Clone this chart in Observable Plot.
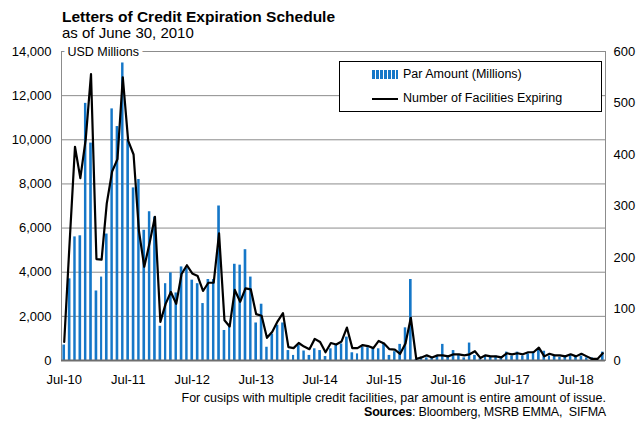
<!DOCTYPE html>
<html><head><meta charset="utf-8">
<script src="https://cdn.jsdelivr.net/npm/d3@7"></script>
<script src="https://cdn.jsdelivr.net/npm/@observablehq/plot@0.6"></script>
<style>
body{margin:0;background:#fff;font-family:"Liberation Sans",Arial,sans-serif;color:#000;}
#wrap{position:relative;width:638px;height:426px;overflow:hidden;}
#title{position:absolute;left:62px;top:8px;font-size:15.5px;font-weight:bold;line-height:18px;white-space:nowrap;}
#subtitle{position:absolute;left:62px;top:24px;font-size:15px;line-height:18px;white-space:nowrap;}
#chart{position:absolute;left:0;top:42px;}
#legend{position:absolute;left:339px;top:61px;width:261px;height:49px;border:1px solid #000;background:#fff;font-size:12.5px;}
.item{position:absolute;left:32px;height:14px;line-height:14px;white-space:nowrap;}
.sw{display:inline-block;width:26px;vertical-align:middle;margin-right:5px;}
#note{position:absolute;right:32px;top:391px;font-size:12.5px;line-height:15px;white-space:nowrap;}
#src{position:absolute;right:32px;top:405px;font-size:12.5px;line-height:15px;white-space:nowrap;letter-spacing:-0.2px;}
</style></head><body>
<div id="wrap">
<div id="title">Letters of Credit Expiration Schedule</div>
<div id="subtitle">as of June 30, 2010</div>
<div id="chart"></div>
<div id="legend">
  <div class="item" style="top:5px"><span class="sw" style="height:9px;background:repeating-linear-gradient(90deg,#1577c8 0 3px,#fff 3px 4px);"></span>Par Amount (Millions)</div>
  <div class="item" style="top:29px"><span class="sw" style="height:2px;background:#000;"></span>Number of Facilities Expiring</div>
</div>
<div id="note">For cusips with multiple credit facilities, par amount is entire amount of issue.</div>
<div id="src"><b>Sources</b>: Bloomberg, MSRB EMMA,&nbsp; SIFMA</div>
</div>
<script>
// ---- data (monthly, starting Jul-2010) ----
const startMonth = "2010-07-01";
const parAmount = [
  700, 3700, 5600, 5650, 11650, 9850, 3150, 3780, 5730, 11400, 10600, 13480,
  10000, 7820, 8200, 5900, 6740, 6500, 1550, 3480, 3970, 3060, 4240, 4180,
  3640, 3480, 2580, 3670, 3670, 7000, 1360, 1600, 4360, 4320, 5020, 3780,
  1700, 2550, 600, 1200, 1600, 1700, 450, 230, 700, 430, 230, 530,
  450, 180, 530, 680, 750, 1060, 350, 300, 620, 580, 580, 530,
  780, 230, 400, 730, 1480, 3670, 50, 150, 120, 120, 200, 730,
  200, 450, 270, 120, 790, 230, 80, 230, 150, 200, 120, 380,
  200, 380, 200, 300, 380, 530, 420, 200, 200, 150, 200, 230,
  150, 200, 120, 120, 80, 380
];
const facilities = [
  36, 230, 415, 354, 429, 556, 197, 196, 305, 367, 391, 550,
  427, 400, 252, 182, 228, 279, 75, 110, 133, 110, 168, 185,
  169, 164, 135, 151, 151, 247, 78, 66, 137, 114, 140, 138,
  90, 87, 44, 56, 76, 92, 26, 24, 34, 27, 22, 42,
  36, 16, 34, 31, 37, 64, 24, 24, 30, 28, 24, 38,
  33, 22, 21, 13, 33, 83, 3, 6, 10, 6, 10, 10,
  8, 12, 12, 10, 12, 18, 5, 10, 8, 8, 6, 14,
  12, 14, 12, 16, 16, 25, 8, 13, 10, 10, 8, 12,
  8, 13, 8, 3, 3, 14
];
const tickLabels = ["Jul-10","Jul-11","Jul-12","Jul-13","Jul-14","Jul-15","Jul-16","Jul-17","Jul-18"];
const leftTicks = [0, 2000, 4000, 6000, 8000, 10000, 12000, 14000];
const rightTicks = [0, 100, 200, 300, 400, 500, 600];
const leftMax = 14000, rightMax = 600;

// ---- build table ----
const start = new Date(startMonth + "T00:00:00Z");
const data = parAmount.map((p, i) => {
  const d = d3.utcMonth.offset(start, i);
  const n = d3.utcMonth.offset(start, i + 1);
  return {date: d, mid: new Date((+d + +n) / 2), par: p, count: facilities[i]};
});
const end = d3.utcMonth.offset(start, parAmount.length);
const toLeft = c => c * leftMax / rightMax;
const julTicks = tickLabels.map((_, k) => {
  const d = d3.utcMonth.offset(start, 12 * k);
  return new Date((+d + +d3.utcMonth.offset(d, 1)) / 2);
});

const chart = Plot.plot({
  width: 638,
  height: 350,
  marginLeft: 61,
  marginRight: 33,
  marginTop: 9,
  marginBottom: 32,
  style: {fontFamily: "'Liberation Sans', Arial, sans-serif", fontSize: "13px", color: "#000", background: "transparent"},
  x: {type: "utc", domain: [start, end]},
  y: {domain: [0, leftMax]},
  marks: [
    Plot.gridY(leftTicks, {stroke: "#8c8c8c", strokeOpacity: 1, strokeWidth: 1}),
    Plot.frame({stroke: "#8c8c8c"}),
    Plot.rectY(data, {x: "date", interval: "month", y: "par", fill: "#1577c8", insetLeft: 1.4, insetRight: 1.4}),
    Plot.ruleY([0], {stroke: "#6e6e6e", strokeWidth: 2}),
    Plot.lineY(data, {x: "mid", y: d => toLeft(d.count), stroke: "#000", strokeWidth: 2.2, strokeLinejoin: "round"}),
    Plot.text(["USD Millions"], {frameAnchor: "top-left", dx: 6, textAnchor: "start", lineAnchor: "middle", fill: "#000", stroke: "#fff", strokeWidth: 8, paintOrder: "stroke", fontSize: 12.5}),
    Plot.axisY(leftTicks, {anchor: "left", tickSize: 0, tickPadding: 10, tickFormat: d3.format(","), label: null, fontSize: 13}),
    Plot.axisY(rightTicks.map(toLeft), {anchor: "right", tickSize: 0, tickPadding: 8, tickFormat: d => String(Math.round(d * rightMax / leftMax)), label: null, fontSize: 13}),
    Plot.axisX(julTicks, {tickSize: 0, tickPadding: 14, tickFormat: d => tickLabels[d.getUTCFullYear() - 2010], label: null, fontSize: 13})
  ]
});
document.getElementById("chart").appendChild(chart);
</script>
</body></html>
